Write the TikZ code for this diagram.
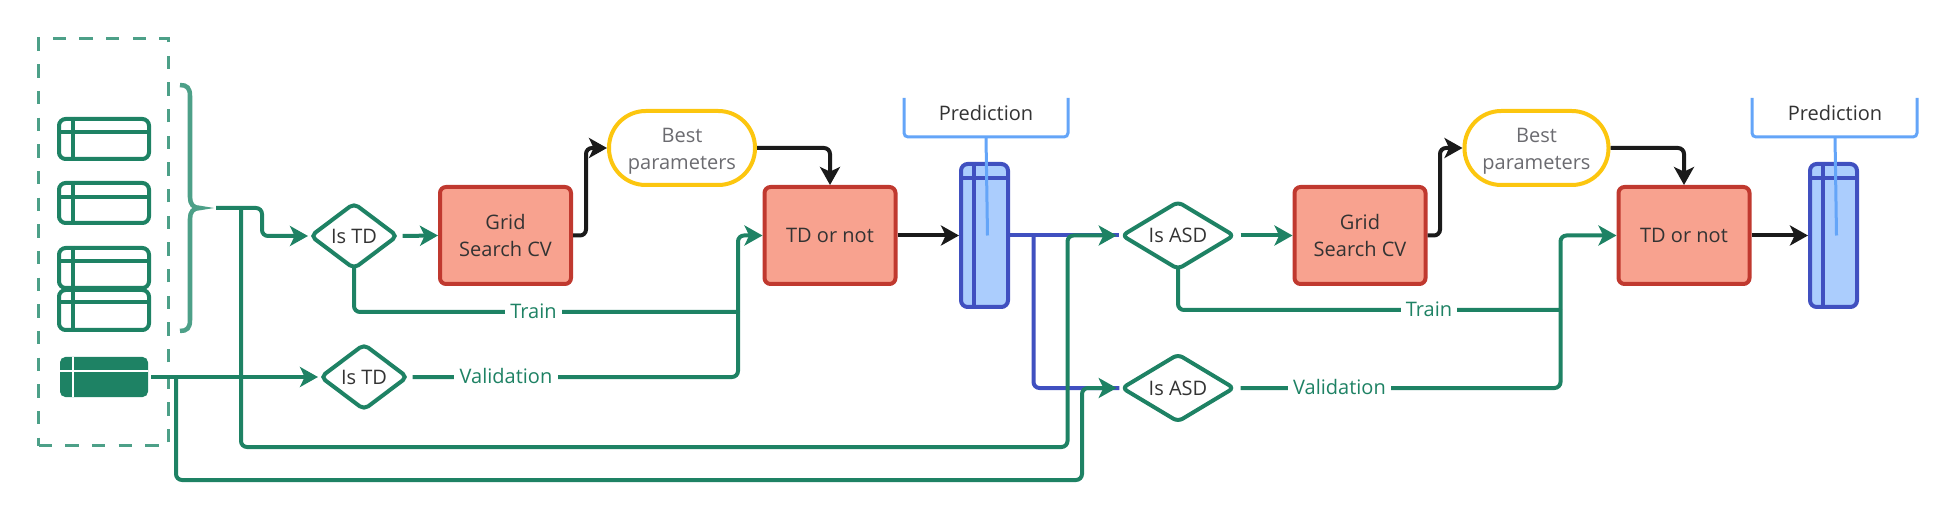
\documentclass[tikz,border=0pt]{standalone}
\usepackage{fontspec}
\setmainfont{Open Sans}
\usetikzlibrary{arrows.meta,shapes.geometric,calc}
\definecolor{grn}{HTML}{1E8264}
\definecolor{grnlt}{HTML}{4DA088}
\definecolor{redln}{HTML}{C0392F}
\definecolor{redfl}{HTML}{F8A28F}
\definecolor{ylw}{HTML}{FCC60F}
\definecolor{blu}{HTML}{4050C0}
\definecolor{blufl}{HTML}{ABCDFD}
\definecolor{blult}{HTML}{64A5F8}
\definecolor{blk}{HTML}{1A1A1A}
\definecolor{txt}{HTML}{333333}
\definecolor{txtgr}{HTML}{6B6B70}
\tikzset{
  txtstyle/.style={font=\fontsize{15}{20.5}\selectfont,align=center,text=txt},
  tip/.style={-{Stealth[length=13.5pt,width=15pt,inset=3.5pt]}},
  gline/.style={draw=grn,line width=3pt,rounded corners=4.5pt},
  kline/.style={draw=blk,line width=3pt,rounded corners=4.5pt},
  bline/.style={draw=blu,line width=3pt,rounded corners=4.5pt},
  redbox/.style={txtstyle,draw=redln,fill=redfl,line width=3pt,rounded corners=4.5pt,
    minimum width=98.25pt,minimum height=72.75pt,inner sep=0pt},
  dia/.style={txtstyle,shape=diamond,draw=grn,fill=white,line width=3pt,rounded corners=4pt,inner sep=0pt},
  tdia/.style={dia,aspect=1.3,minimum width=66pt,minimum height=50pt},
  adia/.style={dia,aspect=1.9,minimum width=85pt,minimum height=51.5pt},
  best/.style={txtstyle,text=txtgr,draw=ylw,fill=white,line width=3pt,rounded corners=27.5pt,
    minimum width=109.5pt,minimum height=55.5pt,inner sep=0pt},
  tbl/.style={draw=grn,line width=3pt,rounded corners=5pt,minimum width=67.5pt,minimum height=30pt,inner sep=0pt},
  tblline/.style={draw=grn,line width=3pt},
  predtbl/.style={draw=blu,fill=blufl,line width=3pt,rounded corners=5pt,minimum width=35.25pt,minimum height=107.25pt,inner sep=0pt},
  predline/.style={draw=blu,line width=3pt},
  callout/.style={draw=blult,line width=2.25pt,rounded corners=3pt},
  lbl/.style={txtstyle,text=grn,fill=white,inner sep=4pt,inner ysep=2pt},
}
\begin{document}
\begin{tikzpicture}[x=0.75pt,y=-0.75pt]
\useasboundingbox (0,0) rectangle (1946,513);

% data group
\node[draw=grnlt,line width=2.6pt,dash pattern=on 10pt off 10pt,minimum width=97.5pt,minimum height=305.5pt,inner sep=0pt] (group) at (103.5,242) {};

\node[tbl] (t1) at (104,139) {};
\draw[tblline] (t1.west |- 0,132) -- (t1.east |- 0,132) (73,0 |- t1.north) -- (73,0 |- t1.south);
\node[tbl] (t2) at (104,203) {};
\draw[tblline] (t2.west |- 0,197) -- (t2.east |- 0,197) (73,0 |- t2.north) -- (73,0 |- t2.south);
\node[tbl] (t3) at (104,268) {};
\draw[tblline] (t3.west |- 0,261) -- (t3.east |- 0,261) (73,0 |- t3.north) -- (73,0 |- t3.south);
\node[tbl,fill=white] (t4) at (104,310) {};
\draw[tblline] (t4.west |- 0,302) -- (t4.east |- 0,302) (73,0 |- t4.north) -- (73,0 |- t4.south);

\node[fill=grn,rounded corners=4pt,minimum width=66pt,minimum height=30pt,inner sep=0pt] (t5) at (104,377) {};
\draw[white,line width=2.2pt] (t5.west |- 0,371) -- (t5.east |- 0,371) (73,0 |- t5.north) -- (73,0 |- t5.south);

% brace
\draw[grnlt,line width=3.4pt] (180,85) .. controls (187,85) and (190,88) .. (190,96) -- (190,197)
  .. controls (190,204) and (193,208) .. (200,208) .. controls (193,208) and (190,212) .. (190,219)
  -- (190,320) .. controls (190,328) and (187,331) .. (180,331);
\coordinate (bracetip) at (216,208);
\coordinate (tblout) at (151,377);

% first stage nodes
\node[tdia] (td1) at (354,236) {Is TD};
\node[tdia] (td2) at (364,377) {Is TD};
\node[redbox] (gs1) at (505.5,235.5) {Grid\\Search CV};
\node[best] (bp1) at (682,148) {\rule{0pt}{16pt}Best\\parameters};
\node[redbox] (dec1) at (830,235.5) {TD or not};
\node[predtbl] (pt1) at (984.5,235.5) {};
\draw[predline] (974,0 |- pt1.north) -- (974,0 |- pt1.south) (pt1.west |- 0,178) -- (pt1.east |- 0,178);

% second stage nodes
\node[adia] (as1) at (1178,235.5) {Is ASD};
\node[adia] (as2) at (1178,388) {Is ASD};
\node[redbox] (gs2) at (1360,235.5) {Grid\\Search CV};
\node[best,minimum width=108pt] (bp2) at (1536.5,148) {\rule{0pt}{16pt}Best\\parameters};
\node[redbox] (dec2) at (1684,235.5) {TD or not};
\node[predtbl] (pt2) at (1833.5,235.5) {};
\draw[predline] (1823,0 |- pt2.north) -- (1823,0 |- pt2.south) (pt2.west |- 0,178) -- (pt2.east |- 0,178);

% blue connectors
\coordinate (bb) at (1033.5,235.5);
\draw[bline] (pt1.east) -- (as1.west);
\draw[bline] (bb) |- (as2.west);

% first stage green connectors
\coordinate (b1) at (262,208);
\coordinate (b2) at (241,208);
\coordinate (b3) at (241,447);
\coordinate (b4) at (1067.5,447);
\coordinate (b5) at (176,377);
\coordinate (b6) at (176,480);
\coordinate (b7) at (1082,480);
\coordinate (j1) at (738,312);
\coordinate (j2) at (738,377);
\coordinate (j3) at (1560.5,310);
\coordinate (j4) at (1560.5,388);
\draw[gline,tip] (bracetip) -- (b1) |- (td1.west);
\draw[gline,tip,shorten >=2pt] (b2) -- (b3) -- (b4) |- (as1.west);
\draw[gline,tip,shorten >=2pt] (b5) -- (b6) -- (b7) |- (as2.west);
\draw[gline,tip] (tblout) -- (td2.west);
\draw[gline,tip,shorten <=2pt] (td1.east) -- (gs1.west);
\draw[gline,shorten <=-3pt] (td1.south) |- (j1);
\draw[gline,shorten <=2pt] (td2.east) -- (j2) -- (j1);
\draw[gline,tip] (j1) |- (dec1.west);
\node[lbl] (tr1) at (533.5,311) {Train};
\node[lbl] (va1) at (506,376) {Validation};

% black connectors first stage
\coordinate (k1) at (586,235.5);
\draw[kline,tip] (gs1.east) -- (k1) |- (bp1.west);
\draw[kline,tip] (bp1.east) -| (dec1.north);
\draw[kline,tip] (dec1.east) -- (pt1.west);

% second stage green connectors
\draw[gline,tip,shorten <=3pt] (as1.east) -- (gs2.west);
\draw[gline,shorten <=-3pt] (as1.south) |- (j3);
\draw[gline,shorten <=3pt] (as2.east) -- (j4) -- (j3);
\draw[gline,tip] (j3) |- (dec2.west);
\node[lbl] (tr2) at (1429,309) {Train};
\node[lbl] (va2) at (1339.5,387) {Validation};

% black connectors second stage
\coordinate (k2) at (1440,235.5);
\draw[kline,tip] (gs2.east) -- (k2) |- (bp2.west);
\draw[kline,tip] (bp2.east) -| (dec2.north);
\draw[kline,tip] (dec2.east) -- (pt2.west);

% prediction callouts
\node[txtstyle] (p1) at (986,113) {Prediction};
\coordinate (p1b) at (986,137);
\draw[callout] (904,98) |- (1068,137) -- (1068,98);
\draw[callout] (p1b) -- (987.5,235.5);
\node[txtstyle] (p2) at (1835,113) {Prediction};
\coordinate (p2b) at (1835,137);
\draw[callout] (1752,98) |- (1917,137) -- (1917,98);
\draw[callout] (p2b) -- (1836.5,235.5);
\end{tikzpicture}
\end{document}
